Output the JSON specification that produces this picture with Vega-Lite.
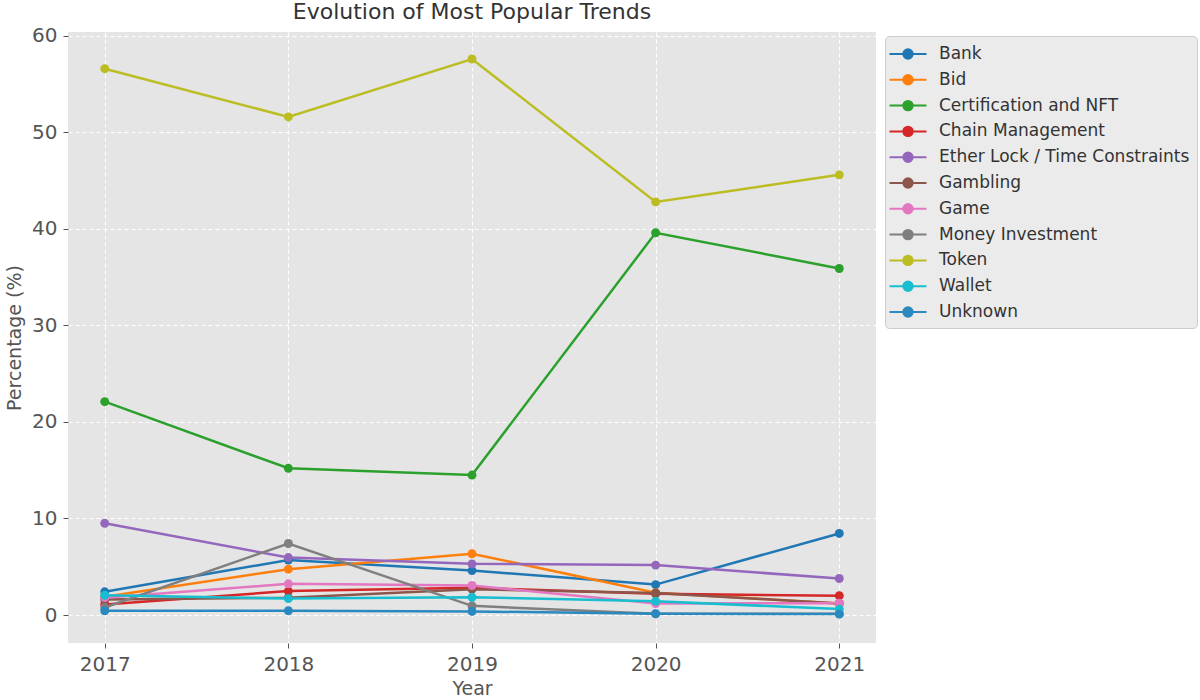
{
  "$schema": "https://vega.github.io/schema/vega-lite/v6.json",
  "width": 808,
  "height": 611,
  "autosize": {"type": "none"},
  "padding": {"left": 68, "top": 32, "right": 324, "bottom": 57},
  "background": "white",
  "title": {
    "text": "Evolution of Most Popular Trends",
    "font": "DejaVu Sans",
    "fontSize": 22,
    "fontWeight": "normal",
    "color": "#333333",
    "anchor": "middle",
    "offset": 2
  },
  "config": {
    "view": {"fill": "#E5E5E5", "stroke": null},
    "font": "DejaVu Sans",
    "axis": {
      "labelFont": "DejaVu Sans",
      "labelFontSize": 20,
      "labelColor": "#555555",
      "titleFont": "DejaVu Sans",
      "titleFontSize": 19,
      "titleFontWeight": "normal",
      "titleColor": "#555555",
      "tickColor": "#555555",
      "tickSize": 5,
      "tickWidth": 1,
      "domain": false,
      "grid": true,
      "gridColor": "#FFFFFF",
      "gridDash": [4, 3],
      "gridWidth": 1
    }
  },
  "data": {
    "values": [
      {"Year": 2017, "Trend": "Bank", "Pct": 2.4},
      {"Year": 2018, "Trend": "Bank", "Pct": 5.7},
      {"Year": 2019, "Trend": "Bank", "Pct": 4.6},
      {"Year": 2020, "Trend": "Bank", "Pct": 3.15},
      {"Year": 2021, "Trend": "Bank", "Pct": 8.45},
      {"Year": 2017, "Trend": "Bid", "Pct": 1.9},
      {"Year": 2018, "Trend": "Bid", "Pct": 4.75},
      {"Year": 2019, "Trend": "Bid", "Pct": 6.35},
      {"Year": 2020, "Trend": "Bid", "Pct": 2.3},
      {"Year": 2021, "Trend": "Bid", "Pct": 1.2},
      {"Year": 2017, "Trend": "Certification and NFT", "Pct": 22.1},
      {"Year": 2018, "Trend": "Certification and NFT", "Pct": 15.2},
      {"Year": 2019, "Trend": "Certification and NFT", "Pct": 14.5},
      {"Year": 2020, "Trend": "Certification and NFT", "Pct": 39.6},
      {"Year": 2021, "Trend": "Certification and NFT", "Pct": 35.9},
      {"Year": 2017, "Trend": "Chain Management", "Pct": 1.1},
      {"Year": 2018, "Trend": "Chain Management", "Pct": 2.48},
      {"Year": 2019, "Trend": "Chain Management", "Pct": 2.82},
      {"Year": 2020, "Trend": "Chain Management", "Pct": 2.2},
      {"Year": 2021, "Trend": "Chain Management", "Pct": 2.0},
      {"Year": 2017, "Trend": "Ether Lock / Time Constraints", "Pct": 9.5},
      {"Year": 2018, "Trend": "Ether Lock / Time Constraints", "Pct": 5.95},
      {"Year": 2019, "Trend": "Ether Lock / Time Constraints", "Pct": 5.3},
      {"Year": 2020, "Trend": "Ether Lock / Time Constraints", "Pct": 5.17},
      {"Year": 2021, "Trend": "Ether Lock / Time Constraints", "Pct": 3.78},
      {"Year": 2017, "Trend": "Gambling", "Pct": 1.6},
      {"Year": 2018, "Trend": "Gambling", "Pct": 1.8},
      {"Year": 2019, "Trend": "Gambling", "Pct": 2.68},
      {"Year": 2020, "Trend": "Gambling", "Pct": 2.28},
      {"Year": 2021, "Trend": "Gambling", "Pct": 1.2},
      {"Year": 2017, "Trend": "Game", "Pct": 1.8},
      {"Year": 2018, "Trend": "Game", "Pct": 3.23},
      {"Year": 2019, "Trend": "Game", "Pct": 3.06},
      {"Year": 2020, "Trend": "Game", "Pct": 1.19},
      {"Year": 2021, "Trend": "Game", "Pct": 1.22},
      {"Year": 2017, "Trend": "Money Investment", "Pct": 0.78},
      {"Year": 2018, "Trend": "Money Investment", "Pct": 7.41},
      {"Year": 2019, "Trend": "Money Investment", "Pct": 0.95},
      {"Year": 2020, "Trend": "Money Investment", "Pct": 0.12},
      {"Year": 2021, "Trend": "Money Investment", "Pct": 0.14},
      {"Year": 2017, "Trend": "Token", "Pct": 56.6},
      {"Year": 2018, "Trend": "Token", "Pct": 51.6},
      {"Year": 2019, "Trend": "Token", "Pct": 57.6},
      {"Year": 2020, "Trend": "Token", "Pct": 42.8},
      {"Year": 2021, "Trend": "Token", "Pct": 45.6},
      {"Year": 2017, "Trend": "Wallet", "Pct": 2.04},
      {"Year": 2018, "Trend": "Wallet", "Pct": 1.7},
      {"Year": 2019, "Trend": "Wallet", "Pct": 1.84},
      {"Year": 2020, "Trend": "Wallet", "Pct": 1.43},
      {"Year": 2021, "Trend": "Wallet", "Pct": 0.61},
      {"Year": 2017, "Trend": "Unknown", "Pct": 0.44},
      {"Year": 2018, "Trend": "Unknown", "Pct": 0.44},
      {"Year": 2019, "Trend": "Unknown", "Pct": 0.37},
      {"Year": 2020, "Trend": "Unknown", "Pct": 0.14},
      {"Year": 2021, "Trend": "Unknown", "Pct": 0.1}
    ]
  },
  "encoding": {
    "x": {
      "field": "Year",
      "type": "quantitative",
      "title": "Year",
      "scale": {"domain": [2016.8, 2021.2], "nice": false, "zero": false},
      "axis": {"values": [2017, 2018, 2019, 2020, 2021], "format": "d", "labelPadding": 6, "titlePadding": 5}
    },
    "y": {
      "field": "Pct",
      "type": "quantitative",
      "title": "Percentage (%)",
      "scale": {"domain": [-2.9, 60.4], "nice": false, "zero": false},
      "axis": {"values": [0, 10, 20, 30, 40, 50, 60], "labelPadding": 6, "titlePadding": 7}
    },
    "color": {
      "field": "Trend",
      "type": "nominal",
      "scale": {
        "domain": ["Bank", "Bid", "Certification and NFT", "Chain Management", "Ether Lock / Time Constraints", "Gambling", "Game", "Money Investment", "Token", "Wallet", "Unknown"],
        "range": ["#1f77b4", "#ff7f0e", "#2ca02c", "#d62728", "#9467bd", "#8c564b", "#e377c2", "#7f7f7f", "#bcbd22", "#17becf", "#2a89bf"]
      },
      "legend": {
        "title": null,
        "orient": "none",
        "legendX": 817,
        "legendY": 4,
        "labelFont": "DejaVu Sans",
        "labelFontSize": 17,
        "labelColor": "#333333",
        "symbolType": "M-1.85,0L1.85,0M-0.47,0A0.47,0.47,0,1,1,0.47,0A0.47,0.47,0,1,1,-0.47,0Z",
        "symbolSize": 400,
        "symbolStrokeWidth": 2,
        "rowPadding": 5.8,
        "labelOffset": 25,
        "padding": 7,
        "offset": 0,
        "fillColor": "#EBEBEB",
        "strokeColor": "#CCCCCC",
        "cornerRadius": 4,
        "labelLimit": 400,
        "encode": {
          "symbols": {
            "update": {
              "fill": {"scale": "color", "field": "value"},
              "stroke": {"scale": "color", "field": "value"},
              "opacity": {"value": 1},
              "fillOpacity": {"value": 1},
              "xc": {"value": 16}
            }
          }
        }
      }
    }
  },
  "layer": [
    {"mark": {"type": "line", "strokeWidth": 2.5}},
    {"mark": {"type": "point", "filled": true, "size": 80, "opacity": 1}}
  ]
}
